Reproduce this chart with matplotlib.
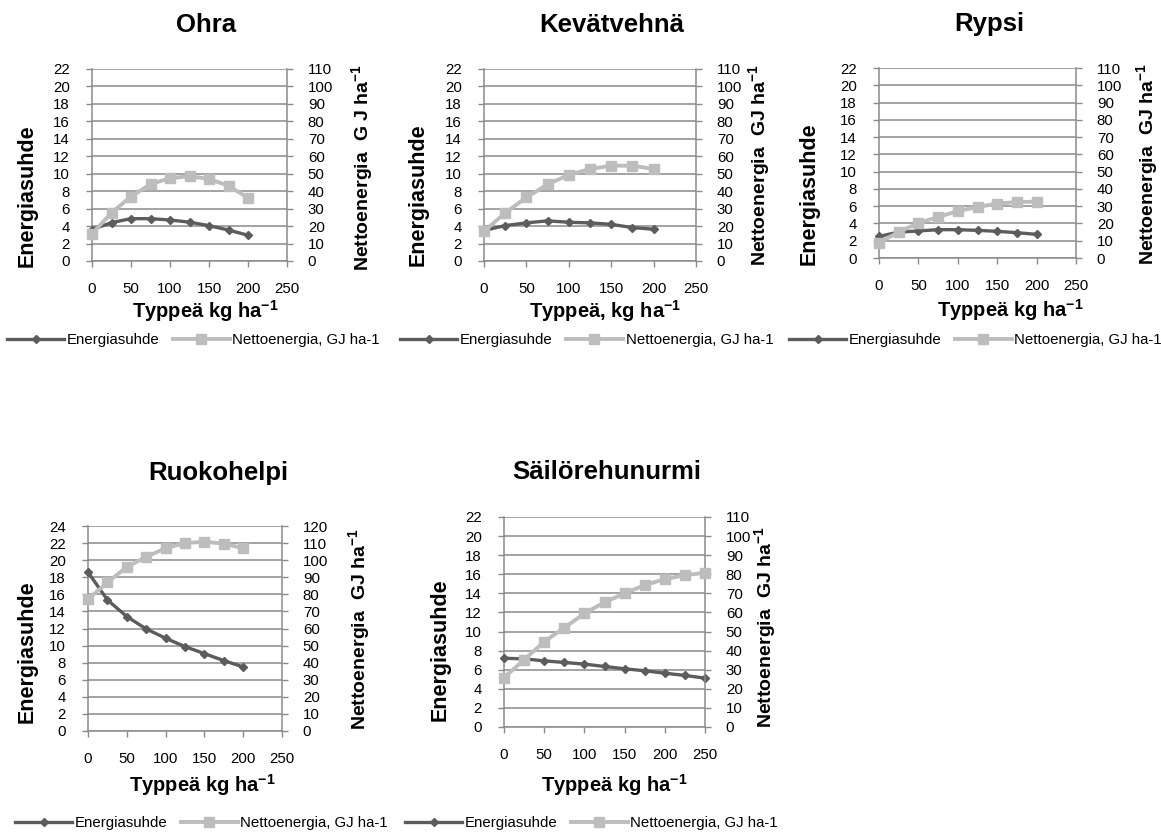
import matplotlib
matplotlib.use("Agg")
import matplotlib.pyplot as plt
from matplotlib.font_manager import FontProperties

plt.rcParams['font.family'] = ['Liberation Sans', 'DejaVu Sans']
plt.rcParams['mathtext.fontset'] = 'custom'
plt.rcParams['mathtext.rm'] = 'Liberation Sans'
plt.rcParams['mathtext.bf'] = 'Liberation Sans:bold'

# ---------------- data ----------------
n_200 = [0, 25, 50, 75, 100, 125, 150, 175, 200]
n_250 = [0, 25, 50, 75, 100, 125, 150, 175, 200, 225, 250]

ohra_suhde = [3.6, 4.4, 4.85, 4.85, 4.7, 4.45, 4.05, 3.55, 2.95]
ohra_netto = [15.5, 27.7, 36.9, 44.0, 47.5, 48.5, 47.1, 43.0, 36.2]

kevat_suhde = [3.5, 4.06, 4.37, 4.6, 4.44, 4.37, 4.2, 3.83, 3.64]
kevat_netto = [17.0, 27.6, 36.4, 43.9, 49.4, 52.7, 54.6, 54.6, 52.7]

rypsi_suhde = [2.5, 3.0, 3.13, 3.28, 3.28, 3.2, 3.09, 2.93, 2.74]
rypsi_netto = [8.9, 15.0, 20.3, 23.7, 27.2, 29.5, 31.5, 32.4, 32.6]

ruoko_suhde = [18.6, 15.35, 13.4, 11.95, 10.86, 9.88, 9.06, 8.24, 7.5]
ruoko_netto = [77.1, 87.0, 96.0, 102.0, 107.0, 110.0, 110.8, 109.7, 107.0]

sailo_suhde = [7.2, 7.14, 6.93, 6.76, 6.59, 6.34, 6.1, 5.89, 5.64, 5.4, 5.12]
sailo_netto = [25.9, 35.2, 44.7, 52.0, 59.5, 65.3, 70.0, 74.3, 77.5, 79.5, 80.8]

titles = ['Ohra', 'Kevätvehnä', 'Rypsi', 'Ruokohelpi', 'Säilörehunurmi']
xlabels = ['Typpeä kg ha$^{\\mathbf{-1}}$', 'Typpeä, kg ha$^{\\mathbf{-1}}$',
           'Typpeä kg ha$^{\\mathbf{-1}}$', 'Typpeä kg ha$^{\\mathbf{-1}}$',
           'Typpeä kg ha$^{\\mathbf{-1}}$']
left_label = 'Energiasuhde'
right_labels = ['Nettoenergia  G J ha$^{\\mathbf{-1}}$',
                'Nettoenergia  GJ ha$^{\\mathbf{-1}}$',
                'Nettoenergia  GJ ha$^{\\mathbf{-1}}$',
                'Nettoenergia  GJ ha$^{\\mathbf{-1}}$',
                'Nettoenergia  GJ ha$^{\\mathbf{-1}}$']
series_names = ['Energiasuhde', 'Nettoenergia, GJ ha-1']
left_max = [22, 22, 22, 24, 22]
x_ticks = [0, 50, 100, 150, 200, 250]

xs = [n_200, n_200, n_200, n_200, n_250]
suhde = [ohra_suhde, kevat_suhde, rypsi_suhde, ruoko_suhde, sailo_suhde]
netto = [ohra_netto, kevat_netto, rypsi_netto, ruoko_netto, sailo_netto]

# ---------------- layout (pixels) ----------------
W, H = 1161, 834
DARK = '#5c5c5c'
LIGHT = '#bdbdbd'
GRID = '#8a8a8a'

# plot area: x0, x1, ytop, ybottom
boxes = [(92, 287, 69, 261), (484, 696, 69, 261), (879, 1076, 68, 258),
         (88, 282, 526, 731), (504, 705, 517, 727)]
title_pos = [(206, 25), (612, 25), (989, 24), (218, 473), (607, 472)]
xlabel_pos = [(205, 311), (605, 311), (1010, 310), (202, 785), (614, 785)]
ylabel_pos = [(27, 196), (418, 195), (809, 194), (27, 652), (440, 650)]
y2label_pos = [(363, 167), (760, 165), (1148, 164), (360, 629), (766, 627)]
legend_pos = [(7, 340), (400, 340), (789, 340), (15, 823), (405, 823)]


def fx(x):
    return x / W


def fy(y):
    return 1 - y / H


fig = plt.figure(figsize=(W / 100, H / 100), dpi=100)
legend_font = FontProperties(family=['Liberation Sans Narrow', 'Liberation Sans'], size=10.8)

for i in range(5):
    x0, x1, yt, yb = boxes[i]
    ax = fig.add_axes([fx(x0), fy(yb), (x1 - x0) / W, (yb - yt) / H])
    ymax = left_max[i]
    ax.set_xlim(0, 250)
    ax.set_ylim(0, ymax)
    ax.set_xticks(x_ticks)
    ax.set_yticks(range(0, ymax + 1, 2))
    ax.grid(axis='y', color=GRID, lw=1.1)
    ax.set_axisbelow(True)
    ax.spines['top'].set_visible(False)
    ax.spines['right'].set_visible(False)
    for s in ('left', 'bottom'):
        ax.spines[s].set_color(GRID)
        ax.spines[s].set_linewidth(1.1)
    ax.tick_params(axis='y', direction='out', length=4, width=1, color=GRID,
                   pad=12, labelsize=10.8, labelcolor='black')
    ax.tick_params(axis='x', direction='out', length=4, width=1, color=GRID,
                   pad=11, labelsize=10.8, labelcolor='black')

    ax2 = ax.twinx()
    ax2.set_ylim(0, ymax * 5)
    ax2.set_yticks(range(0, ymax * 5 + 1, 10))
    for s in ('top', 'left', 'bottom'):
        ax2.spines[s].set_visible(False)
    ax2.spines['right'].set_color(GRID)
    ax2.spines['right'].set_linewidth(1.1)
    ax2.tick_params(axis='y', direction='out', length=4, width=1, color=GRID,
                    pad=11, labelsize=10.8, labelcolor='black')

    l1, = ax.plot(xs[i], suhde[i], color=DARK, lw=2.4, marker='D', ms=4.5,
                  clip_on=False, zorder=3, label=series_names[0])
    l2, = ax2.plot(xs[i], netto[i], color=LIGHT, lw=2.8, marker='s', ms=6.5,
                   clip_on=False, zorder=3, label=series_names[1])

    tx, ty = title_pos[i]
    fig.text(fx(tx), fy(ty), titles[i], ha='center', va='center',
             fontsize=18.5, fontweight='bold')
    lx, ly = xlabel_pos[i]
    fig.text(fx(lx), fy(ly), xlabels[i], ha='center', va='center',
             fontsize=14.5, fontweight='bold')
    yx, yy = ylabel_pos[i]
    fig.text(fx(yx), fy(yy), left_label, ha='center', va='center',
             rotation=90, fontsize=15.5, fontweight='bold')
    rx, ry = y2label_pos[i]
    fig.text(fx(rx), fy(ry), right_labels[i], ha='center', va='center',
             rotation=90, fontsize=14, fontweight='bold')

    gx, gy = legend_pos[i]
    fig.legend(handles=[l1, l2], labels=series_names, loc='center left',
               bbox_to_anchor=(fx(gx), fy(gy)), frameon=False, ncol=2,
               prop=legend_font, handlelength=3.8, handletextpad=0.2,
               columnspacing=0.85, borderpad=0, borderaxespad=0)

fig.savefig('out.png', dpi=100)
